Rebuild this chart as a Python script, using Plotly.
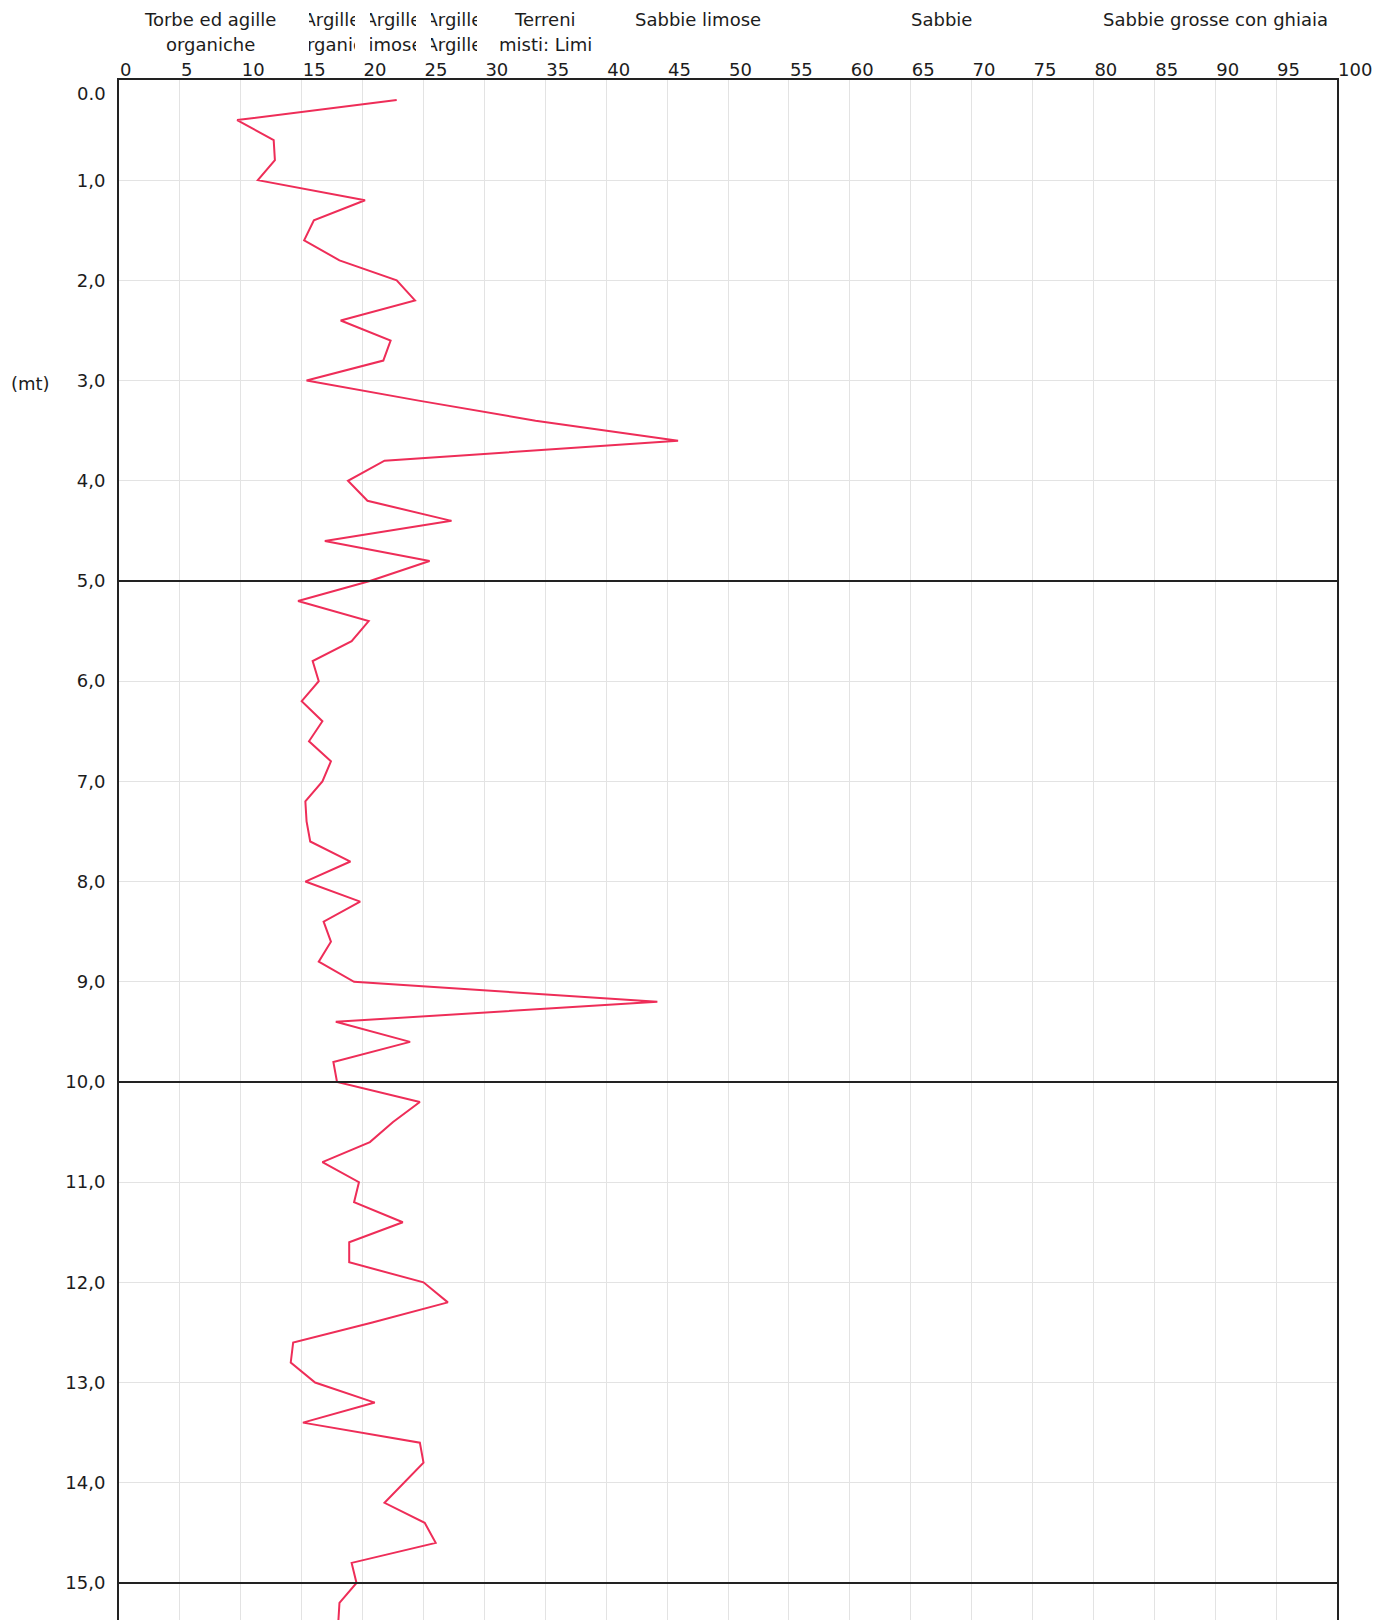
import plotly.graph_objects as go

# ---- data ----
depth_m = [0.2, 0.4, 0.6, 0.8, 1.0, 1.2, 1.4, 1.6, 1.8, 2.0,
           2.2, 2.4, 2.6, 2.8, 3.0, 3.2, 3.4, 3.6, 3.8, 4.0,
           4.2, 4.4, 4.6, 4.8, 5.0, 5.2, 5.4, 5.6, 5.8, 6.0,
           6.2, 6.4, 6.6, 6.8, 7.0, 7.2, 7.4, 7.6, 7.8, 8.0,
           8.2, 8.4, 8.6, 8.8, 9.0, 9.2, 9.4, 9.6, 9.8, 10.0,
           10.2, 10.4, 10.6, 10.8, 11.0, 11.2, 11.4, 11.6, 11.8, 12.0,
           12.2, 12.4, 12.6, 12.8, 13.0, 13.2, 13.4, 13.6, 13.8, 14.0,
           14.2, 14.4, 14.6, 14.8, 15.0, 15.2, 15.4]

ratio_value = [22.8, 9.7, 12.7, 12.8, 11.4, 20.2, 16.0, 15.2, 18.1, 22.8,
               24.3, 18.2, 22.3, 21.7, 15.4, 24.6, 34.2, 45.9, 21.8, 18.8,
               20.4, 27.3, 16.9, 25.5, 20.6, 14.7, 20.5, 19.1, 15.9, 16.4,
               15.0, 16.7, 15.6, 17.4, 16.7, 15.3, 15.4, 15.7, 19.0, 15.3,
               19.8, 16.8, 17.4, 16.4, 19.3, 44.2, 17.8, 23.9, 17.6, 17.9,
               24.7, 22.5, 20.6, 16.7, 19.7, 19.3, 23.3, 18.9, 18.9, 25.0,
               27.0, 20.8, 14.3, 14.1, 16.1, 21.0, 15.1, 24.7, 25.0, 23.4,
               21.8, 25.1, 26.0, 19.1, 19.5, 18.1, 18.0]

x_ticks = [0, 5, 10, 15, 20, 25, 30, 35, 40, 45, 50,
           55, 60, 65, 70, 75, 80, 85, 90, 95, 100]
x_tick_text = ["0", "5", "10", "15", "20", "25", "30", "35", "40", "45", "50",
               "55", "60", "65", "70", "75", "80", "85", "90", "95", "100"]

y_ticks = [0, 1, 2, 3, 4, 5, 6, 7, 8, 9, 10, 11, 12, 13, 14, 15]
y_tick_text = ["0.0", "1,0", "2,0", "3,0", "4,0", "5,0", "6,0", "7,0", "8,0",
               "9,0", "10,0", "11,0", "12,0", "13,0", "14,0", "15,0"]

layer_depths = [5, 10, 15]

class_centre = [7.5, 17.5, 22.5, 27.5, 35, 47.5, 67.5, 90]
class_row1 = ["Torbe ed agille", "Argille", "Argille", "Argille", "Terreni",
              "Sabbie limose", "Sabbie", "Sabbie grosse con ghiaia"]
class_row2 = ["organiche", "\u00a0\u00a0\u00a0organiche", "limose", "Argille",
              "misti: Limi", "", "", ""]
class_clipped = [False, True, True, True, False, False, False, False]

# ---- styling ----
FONT = "DejaVu Sans, Verdana, sans-serif"
TXT = "#1c1c1c"
LINE = "#222222"
GRID = "#e3e3e3"

fig = go.Figure()
fig.add_trace(go.Scatter(x=ratio_value, y=depth_m, mode="lines",
                         line=dict(color="#ee2d58", width=2),
                         showlegend=False, hoverinfo="x+y"))

for d in layer_depths:
    fig.add_shape(type="line", xref="x", yref="y", x0=0, x1=100, y0=d, y1=d,
                  line=dict(color=LINE, width=2), layer="above")

annotations = []
for c, t1, t2, clip in zip(class_centre, class_row1, class_row2, class_clipped):
    for txt, shift in ((t1, 61), (t2, 36)):
        if not txt:
            continue
        a = dict(x=c, xref="x", y=1, yref="paper", yanchor="middle",
                 xanchor="center", yshift=shift, text=txt, showarrow=False,
                 align="center", font=dict(family=FONT, size=18, color=TXT))
        if clip:
            a["width"] = 46
        annotations.append(a)

annotations.append(dict(x=0, xref="paper", y=y_ticks[0], yref="y",
                        xanchor="right", yanchor="middle", xshift=-11,
                        yshift=-13, text=y_tick_text[0], showarrow=False,
                        font=dict(family=FONT, size=18, color=TXT)))
annotations.append(dict(x=0, xref="paper", y=3, yref="y", xanchor="center",
                        yanchor="middle", xshift=-89, yshift=-3, text="(mt)",
                        showarrow=False,
                        font=dict(family=FONT, size=18, color=TXT)))

fig.update_layout(
    width=1391, height=1620,
    margin=dict(l=119, r=54, t=80, b=0),
    paper_bgcolor="white", plot_bgcolor="white",
    font=dict(family=FONT, size=18, color=TXT),
    annotations=annotations,
    xaxis=dict(range=[0, 100], side="top", tickmode="array",
               tickvals=x_ticks, ticktext=x_tick_text,
               ticklabelposition="outside right", ticklabelstandoff=-5,
               showgrid=True, gridcolor=GRID, gridwidth=1,
               showline=True, linecolor=LINE, linewidth=2,
               zeroline=False, ticks="",
               tickfont=dict(family=FONT, size=18, color=TXT)),
    yaxis=dict(range=[15.37, 0], tickmode="array",
               tickvals=y_ticks[1:], ticktext=y_tick_text[1:],
               showgrid=True, gridcolor=GRID, gridwidth=1,
               showline=True, linecolor=LINE, linewidth=2, mirror=True,
               zeroline=False, ticks="", ticklabelstandoff=8,
               tickfont=dict(family=FONT, size=18, color=TXT)),
)

fig.write_html("out.html")
